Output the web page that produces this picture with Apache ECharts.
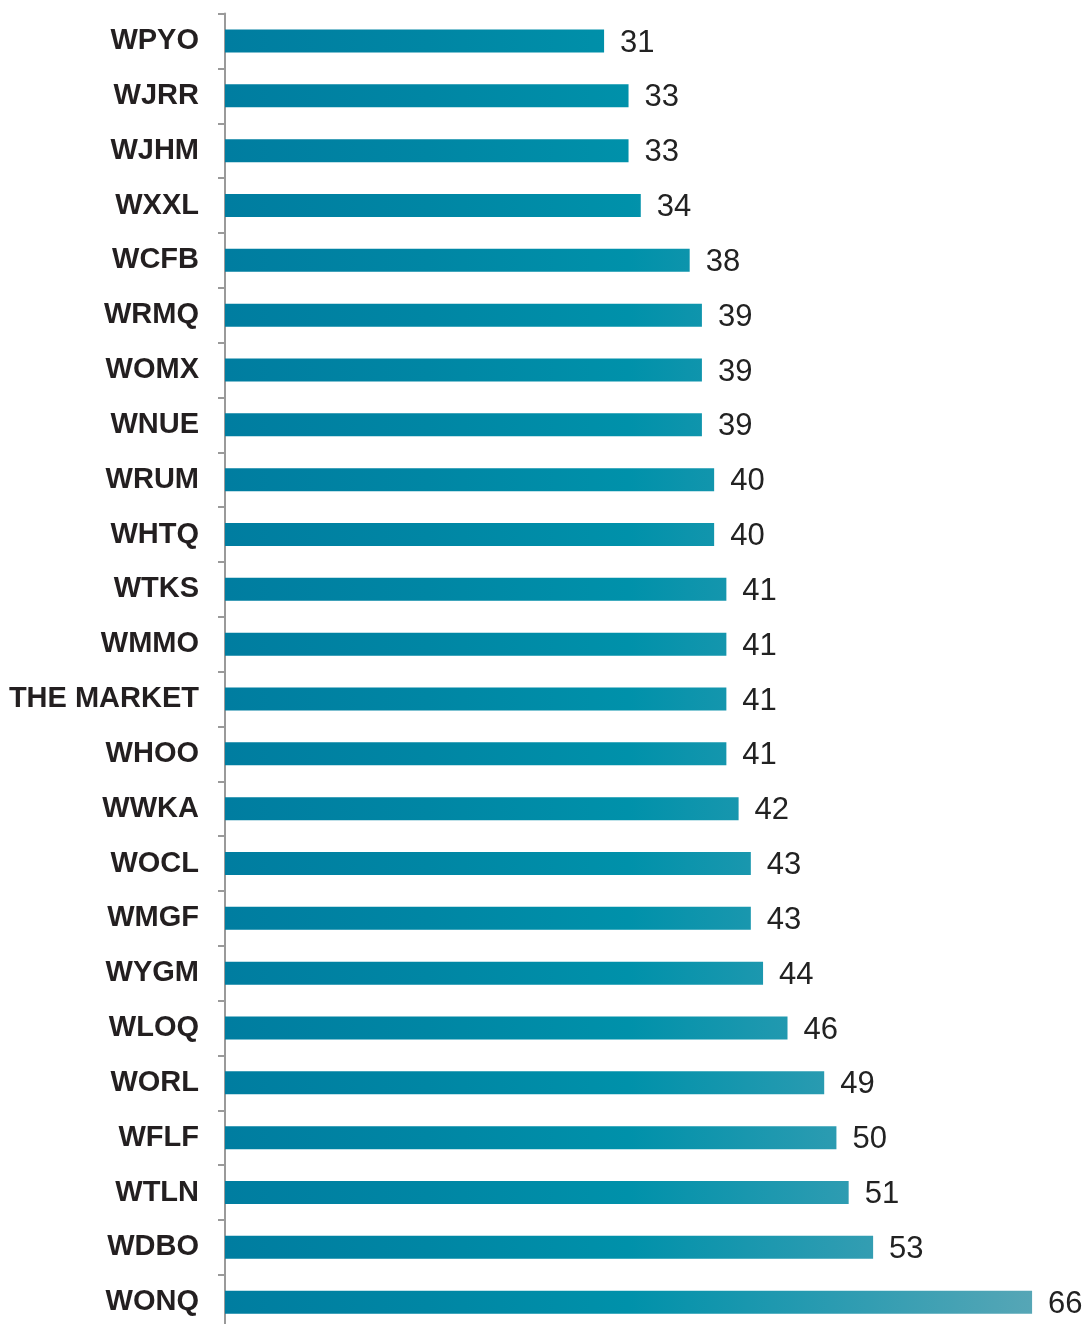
<!DOCTYPE html>
<html>
<head>
<meta charset="utf-8">
<script src="https://cdn.jsdelivr.net/npm/echarts@6/dist/echarts.min.js"></script>
<style>html,body{margin:0;padding:0;background:#fff;}#c{width:1086px;height:1324px;}</style>
</head>
<body>
<div id="c"></div>
<script>
const categories = ["WPYO","WJRR","WJHM","WXXL","WCFB","WRMQ","WOMX","WNUE","WRUM","WHTQ","WTKS","WMMO","THE MARKET","WHOO","WWKA","WOCL","WMGF","WYGM","WLOQ","WORL","WFLF","WTLN","WDBO","WONQ"];
const values = [31,33,33,34,38,39,39,39,40,40,41,41,41,41,42,43,43,44,46,49,50,51,53,66];

const chart = echarts.init(document.getElementById('c'), null, {renderer:'canvas'});
const gradient = new echarts.graphic.LinearGradient(225, 0, 1032, 0, [
  {offset:0, color:'#007DA0'},
  {offset:0.25, color:'#0086A4'},
  {offset:0.5, color:'#0091AA'},
  {offset:0.75, color:'#2A9BB1'},
  {offset:1, color:'#56A6B6'}
], true);
chart.setOption({
  animation:false,
  grid:{left:225, top:13.6, width:856, height:1316, outerBoundsMode:'none', containLabel:false},
  xAxis:{type:'value', min:0, max:70, show:false},
  yAxis:{
    type:'category', data:categories, inverse:true,
    axisLine:{show:true, lineStyle:{color:'#9a9a9a', width:2}},
    axisTick:{show:true, length:7, lineStyle:{color:'#9a9a9a', width:2}},
    axisLabel:{margin:26, fontSize:29, fontWeight:'bold', color:'#231F20', padding:[4,0,0,0], fontFamily:'Liberation Sans, Arial, sans-serif'}
  },
  series:[{
    type:'bar', data:values, barWidth:23,
    itemStyle:{color:gradient},
    label:{show:true, position:'right', distance:16, offset:[0,2], fontSize:31, color:'#222', fontFamily:'Liberation Sans, Arial, sans-serif'}
  }]
});
</script>
</body>
</html>
